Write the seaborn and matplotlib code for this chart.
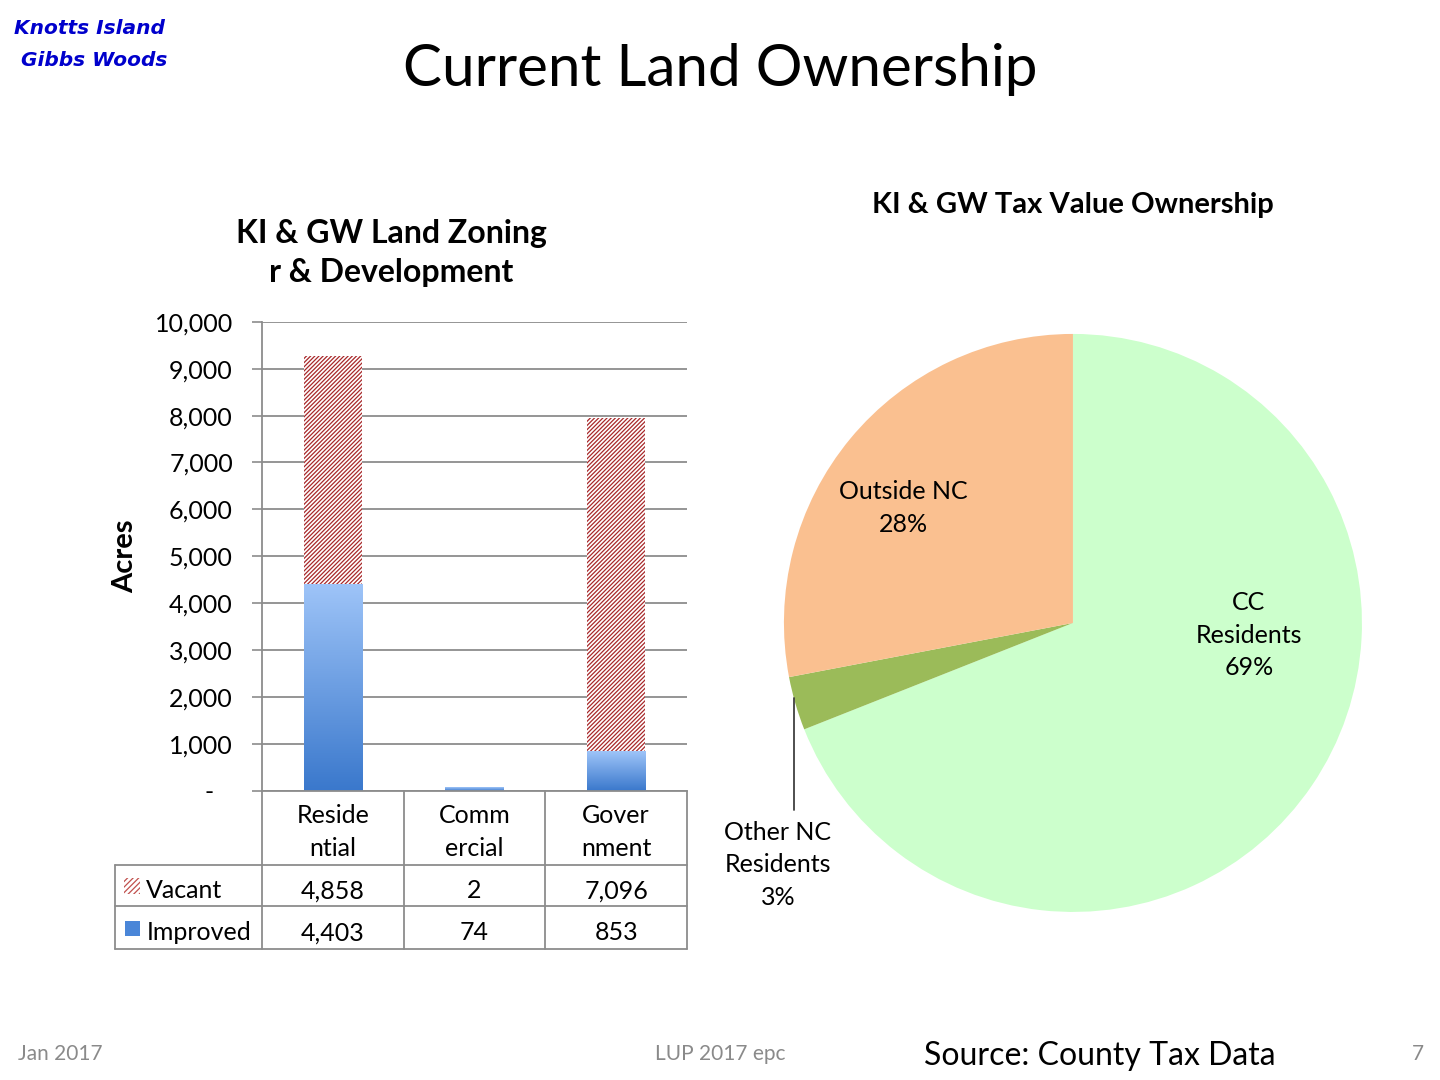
import numpy as np
import pandas as pd
import matplotlib
matplotlib.use("Agg")
import matplotlib.pyplot as plt
import matplotlib.transforms as mtransforms
from matplotlib.patches import Rectangle
import seaborn as sns

# data
categories = ["Residential", "Commercial", "Government"]
cat_labels = ["Reside\nntial", "Comm\nercial", "Gover\nnment"]
vacant = [4858, 2, 7096]
improved = [4403, 74, 853]

pie_names = ["CC\nResidents", "Other NC\nResidents", "Outside NC"]
pie_pct = [69, 3, 28]
pie_colors = ["#CCFFCC", "#9BBB59", "#FAC090"]

sns.set_theme(style="white")
plt.rcParams['font.family'] = ['Lato', 'DejaVu Sans']
plt.rcParams['hatch.linewidth'] = 0.9
plt.rcParams['text.color'] = 'black'
plt.rcParams['axes.labelcolor'] = 'black'

fig = plt.figure(figsize=(14.4, 10.8), dpi=100)
fig.patch.set_facecolor("white")

GRAY = "#8C8C8C"
HATCH_RED = "#A8282A"
FS = 18

# ---- bar chart ----
ax = fig.add_axes([0.182, 0.268, 0.295, 0.434])
df = pd.DataFrame({"cat": categories, "vacant": vacant, "improved": improved})
df["total"] = df["vacant"] + df["improved"]

sns.barplot(data=df, x="cat", y="total", color="white", width=0.41, ax=ax,
            saturation=1, linewidth=0)
n_tot = len(ax.patches)
for p in ax.patches:
    p.set_facecolor("white")
    p.set_edgecolor(HATCH_RED)
    p.set_hatch("////////")
    p.set_linewidth(0)
sns.barplot(data=df, x="cat", y="improved", color="#5B93DE", width=0.41, ax=ax,
            saturation=1, linewidth=0)

ax.set_xlim(-0.5, 2.5)
ax.set_ylim(0, 10000)
ax.autoscale(False)

# gradient fill for improved bars
grad = np.linspace(0, 1, 256).reshape(-1, 1)
cmap = matplotlib.colors.LinearSegmentedColormap.from_list("blu", ["#3A78CC", "#9EC4F8"])
for p in ax.patches[n_tot:]:
    x0, y0 = p.get_x(), p.get_y()
    w, h = p.get_width(), p.get_height()
    im = ax.imshow(grad, cmap=cmap, extent=[x0, x0 + w, y0, y0 + h],
                   origin="lower", aspect="auto", zorder=p.get_zorder() + 0.1)
    im.set_clip_path(p)

ticks = list(range(0, 10001, 1000))
ax.set_yticks(ticks)
ax.set_yticklabels(["-   " if t == 0 else f"{t:,}" for t in ticks], fontsize=FS)
ax.tick_params(axis="y", length=7, width=1.2, color=GRAY, labelcolor="black",
               pad=14, left=True)
ax.set_xticks([])
ax.set_xlabel("")
ax.set_ylabel("Acres", fontsize=21, fontweight="bold", labelpad=12)
ax.yaxis.grid(True, color=GRAY, linewidth=1.3)
ax.set_axisbelow(True)
for s in ["top", "right"]:
    ax.spines[s].set_visible(False)
for s in ["left", "bottom"]:
    ax.spines[s].set_color(GRAY)
    ax.spines[s].set_linewidth(1.3)

fig.text(391 / 1440, 1 - 253 / 1080, "KI & GW Land Zoning\nr & Development",
         ha="center", va="center", fontsize=23, fontweight="bold", linespacing=1.42)

# data table under the bars
tr = mtransforms.blended_transform_factory(ax.transData, ax.transAxes)
y_head, y_vac, y_imp = -0.158, -0.247, -0.337
x_left = -1.537
line_kw = dict(color=GRAY, linewidth=1.3, transform=tr, clip_on=False)
for yy in [y_head, y_vac, y_imp]:
    ax.plot([x_left, 2.5], [yy, yy], **line_kw)
for xx in [-0.5, 0.5, 1.5, 2.5]:
    ax.plot([xx, xx], [0, y_imp], **line_kw)
ax.plot([x_left, x_left], [y_head, y_imp], **line_kw)

off = -0.011
for i, lab in enumerate(cat_labels):
    ax.text(i, y_head / 2 - 0.009, lab, ha="center", va="center", fontsize=FS,
            transform=tr, linespacing=1.5)
    ax.text(i, (y_head + y_vac) / 2 + off, f"{vacant[i]:,}", ha="center", va="center",
            fontsize=FS, transform=tr)
    ax.text(i, (y_vac + y_imp) / 2 + off, f"{improved[i]:,}", ha="center", va="center",
            fontsize=FS, transform=tr)

ax.text(x_left + 0.22, (y_head + y_vac) / 2 + off, "Vacant", ha="left", va="center",
        fontsize=FS, transform=tr)
ax.text(x_left + 0.22, (y_vac + y_imp) / 2 + off, "Improved", ha="left", va="center",
        fontsize=FS, transform=tr)
ax.add_patch(Rectangle((x_left + 0.065, (y_head + y_vac) / 2 - 0.019), 0.11, 0.034,
                       transform=tr, clip_on=False, facecolor="white",
                       edgecolor="#C0504D", hatch="//////", linewidth=0))
ax.add_patch(Rectangle((x_left + 0.07, (y_vac + y_imp) / 2 - 0.018), 0.105, 0.032,
                       transform=tr, clip_on=False, facecolor="#4A86D8", linewidth=0))

# ---- pie chart ----
pax = fig.add_axes([0.5444, 0.1556, 0.4014, 0.5352])
wedges, _ = pax.pie(pie_pct, colors=pie_colors, startangle=90, counterclock=False,
                    wedgeprops=dict(linewidth=0))
pax.set_xlim(-1, 1)
pax.set_ylim(-1, 1)
pax.set_aspect("equal")
pax.axis("off")

pie_label_pos = [(0.609, -0.042), (-1.021, -0.837), (-0.588, 0.398)]
for (nm, pc, (lx, ly)) in zip(pie_names, pie_pct, pie_label_pos):
    pax.text(lx, ly, f"{nm}\n{pc}%", ha="center", va="center", fontsize=FS,
             linespacing=1.5, clip_on=False)
pax.plot([-0.965, -0.965], [-0.26, -0.647], color="#404040", linewidth=1.3,
         clip_on=False)
fig.text(1073 / 1440, 1 - 205 / 1080, "KI & GW Tax Value Ownership", ha="center",
         va="center", fontsize=21, fontweight="bold")

# ---- slide texts ----
fig.text(0.5, 1 - 69 / 1080, "Current Land Ownership", ha="center", va="center",
         fontsize=42)
fig.text(14 / 1440, 1 - 28 / 1080, "Knotts Island", ha="left", va="center",
         fontsize=14.5, fontweight="bold", style="italic", color="#0000CC",
         family="DejaVu Sans")
fig.text(21 / 1440, 1 - 60 / 1080, "Gibbs Woods", ha="left", va="center",
         fontsize=14.5, fontweight="bold", style="italic", color="#0000CC",
         family="DejaVu Sans")
fig.text(18 / 1440, 1 - 1054 / 1080, "Jan 2017", ha="left", va="center",
         fontsize=15, color="#8A8A8A")
fig.text(720 / 1440, 1 - 1054 / 1080, "LUP 2017 epc", ha="center", va="center",
         fontsize=15, color="#8A8A8A")
fig.text(924 / 1440, 1 - 1056 / 1080, "Source: County Tax Data", ha="left",
         va="center", fontsize=23, color="black")
fig.text(1424 / 1440, 1 - 1054 / 1080, "7", ha="right", va="center",
         fontsize=15, color="#8A8A8A")

fig.savefig("out.png", dpi=100, facecolor="white")
